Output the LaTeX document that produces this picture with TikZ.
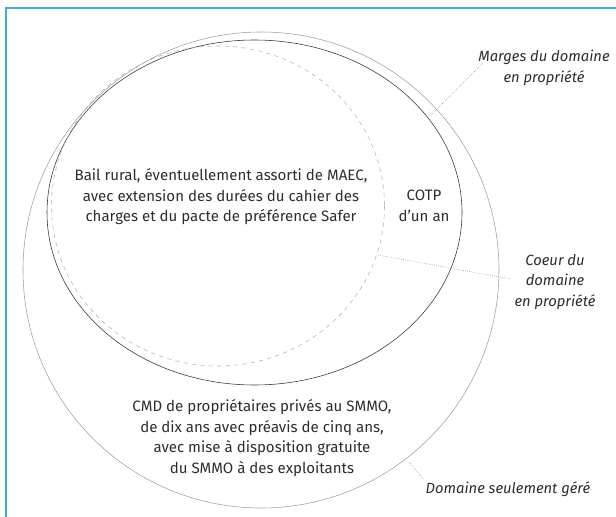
\documentclass[tikz,border=0pt]{standalone}
\usepackage{fontspec}
\setmainfont{Fira Sans}
\definecolor{cadre}{RGB}{64,170,218}
\definecolor{encre}{RGB}{45,45,45}
\begin{document}
\begin{tikzpicture}[x=0.025cm,y=-0.025cm,
    txt/.style={align=center,text=encre,font=\fontsize{10.7}{14.6}\selectfont},
    lbl/.style={align=center,text=encre,font=\fontsize{10.5}{14.6}\selectfont\itshape},
    leader/.style={densely dotted,gray,thin}]
  \useasboundingbox (0,0) rectangle (616,517);
  \draw[cadre,line width=1.8pt] (6,8) rectangle (660,560);
  % zones
  \draw[gray!75,thin] (261,270) ellipse [x radius=238,y radius=238];
  \draw[black!80] (254.5,212.5) ellipse [x radius=207.5,y radius=172.5];
  \draw[gray!60,dashed] (218,206) ellipse [x radius=166.5,y radius=160];
  % textes
  \node[txt] (bail) at (221,197) {Bail rural, éventuellement assorti de MAEC,\\avec extension des durées du cahier des\\charges et du pacte de préférence Safer};
  \node[txt] (cotp) at (424,206) {COTP\\d'un an};
  \node[txt] (cmd) at (262,438) {CMD de propriétaires privés au SMMO,\\de dix ans avec préavis de cinq ans,\\avec mise à disposition gratuite\\du SMMO à des exploitants};
  \node[lbl] (marges) at (544,68) {Marges du domaine\\en propriété};
  \node[lbl] (coeur) at (555,282) {Coeur du\\domaine\\en propriété};
  \node[lbl] (gere) at (508,489) {Domaine seulement géré};
  % renvois
  \coordinate (m1) at (483,63);
  \coordinate (m2) at (430,116);
  \coordinate (c1) at (378,255);
  \coordinate (c2) at (511,279);
  \coordinate (g1) at (409,462);
  \coordinate (g2) at (424,480);
  \draw[leader] (m1) -- (m2);
  \draw[leader] (c1) -- (c2);
  \draw[leader] (g1) -- (g2);
\end{tikzpicture}
\end{document}
